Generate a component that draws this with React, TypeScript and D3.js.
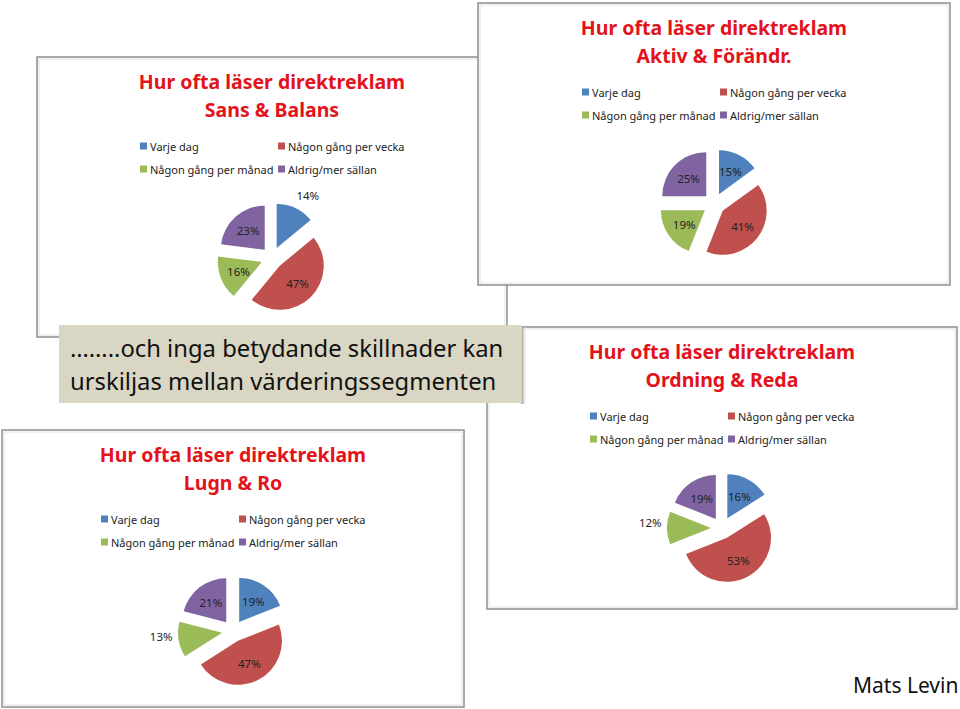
import React from "react";
import * as d3 from "d3";

const categories = ["Varje dag", "Någon gång per vecka", "Någon gång per månad", "Aldrig/mer sällan"];
const sliceColors = ["#4F81BD", "#C0504D", "#9BBB59", "#8064A2"];
const titleLine1 = "Hur ofta läser direktreklam";
const segmentNames = ["Sans & Balans", "Aktiv & Förändr.", "Ordning & Reda", "Lugn & Ro"];
const sansBalans = [14, 47, 16, 23];
const aktivForandr = [15, 41, 19, 25];
const ordningReda = [16, 53, 12, 19];
const lugnRo = [19, 47, 13, 21];
const bannerLines = ["……..och inga betydande skillnader kan", "urskiljas mellan värderingssegmenten"];
const author = "Mats Levin";

const W = 960;
const H = 709;
const R = 44;
const EXPLODE = 11;

type Frame = { x: number; y: number; w: number; h: number };

function Panel({ frame, subtitle, values }: { frame: Frame; subtitle: string; values: number[] }) {
  const cx = frame.w / 2;
  const pieGen = d3.pie<number>().sort(null).value((d) => d).startAngle(0).endAngle(2 * Math.PI);
  const arcs = pieGen(values);
  const arcGen = d3.arc<d3.PieArcDatum<number>>().innerRadius(0).outerRadius(R);
  const total = d3.sum(values);
  const fmt = d3.format(".0%");
  const legendCols = [cx - 132, cx + 6];
  const legendRows = [89, 112];
  return (
    <g transform={`translate(${frame.x},${frame.y})`}>
      <rect x={0} y={0} width={frame.w} height={frame.h} fill="#fff" stroke="#8f8f8f" strokeWidth={1.5} />
      <rect x={2} y={2} width={frame.w - 4} height={frame.h - 4} fill="none" stroke="#e2e2e2" strokeWidth={1} />
      <text x={cx} y={32} textAnchor="middle" fontFamily="'Noto Sans', sans-serif" fontWeight="bold" fontSize={19.5} fill="#E3121B">
        {titleLine1}
      </text>
      <text x={cx} y={60} textAnchor="middle" fontFamily="'Noto Sans', sans-serif" fontWeight="bold" fontSize={19.5} fill="#E3121B">
        {subtitle}
      </text>
      {categories.map((c, i) => {
        const lx = legendCols[i % 2];
        const ly = legendRows[Math.floor(i / 2)];
        return (
          <g key={c}>
            <rect x={lx} y={ly - 3.5} width={7} height={7} fill={sliceColors[i]} />
            <text x={lx + 10} y={ly} dominantBaseline="central" fontFamily="'Noto Sans', sans-serif" fontSize={11} fill="#222">
              {c}
            </text>
          </g>
        );
      })}
      <g transform={`translate(${cx},201)`}>
        {arcs.map((a, i) => {
          const mid = (a.startAngle + a.endAngle) / 2;
          const ox = Math.sin(mid) * EXPLODE;
          const oy = -Math.cos(mid) * EXPLODE;
          const frac = a.value / total;
          const outside = frac < 0.15;
          const dist = outside ? EXPLODE + R + 17 : EXPLODE + 0.57 * R;
          const ang = outside ? mid + 0.08 : mid;
          const lx = Math.sin(ang) * dist;
          const ly = -Math.cos(ang) * dist;
          return (
            <g key={i}>
              <path d={arcGen(a) || ""} transform={`translate(${ox},${oy})`} fill={sliceColors[i]} />
              <text x={lx} y={ly} textAnchor="middle" dominantBaseline="central" fontFamily="'Noto Sans', sans-serif" fontSize={11.5} fill="#222">
                {fmt(frac)}
              </text>
            </g>
          );
        })}
      </g>
    </g>
  );
}

export default function App() {
  const frames: Frame[] = [
    { x: 37, y: 57, w: 470, h: 280 },
    { x: 478, y: 3, w: 472, h: 282 },
    { x: 487, y: 327, w: 470, h: 282 },
    { x: 2, y: 430, w: 462, h: 277 },
  ];
  const data = [sansBalans, aktivForandr, ordningReda, lugnRo];
  return (
    <svg width={W} height={H} style={{ position: "absolute", left: 0, top: 0 }} xmlns="http://www.w3.org/2000/svg">
      <defs>
        <linearGradient id="bshadow" x1="0" x2="1" y1="0" y2="0">
          <stop offset="0" stopColor="#7d7a6c" />
          <stop offset="1" stopColor="#ffffff" stopOpacity={0} />
        </linearGradient>
      </defs>
      <rect x={0} y={0} width={W} height={H} fill="#fff" />
      <Panel frame={frames[0]} subtitle={segmentNames[0]} values={data[0]} />
      <Panel frame={frames[1]} subtitle={segmentNames[1]} values={data[1]} />
      <Panel frame={frames[2]} subtitle={segmentNames[2]} values={data[2]} />
      <g>
        <rect x={521} y={327} width={6} height={77} fill="url(#bshadow)" />
        <rect x={59} y={325} width={463} height={78} fill="#dad6c4" />
        <text x={70} y={357} fontFamily="'Noto Sans', sans-serif" fontSize={23.8} fill="#111">
          {bannerLines[0]}
        </text>
        <text x={70} y={390} fontFamily="'Noto Sans', sans-serif" fontSize={23.8} fill="#111">
          {bannerLines[1]}
        </text>
      </g>
      <Panel frame={frames[3]} subtitle={segmentNames[3]} values={data[3]} />
      <text x={853} y={693} fontFamily="'Noto Sans', sans-serif" fontSize={21} fill="#111">
        {author}
      </text>
    </svg>
  );
}
